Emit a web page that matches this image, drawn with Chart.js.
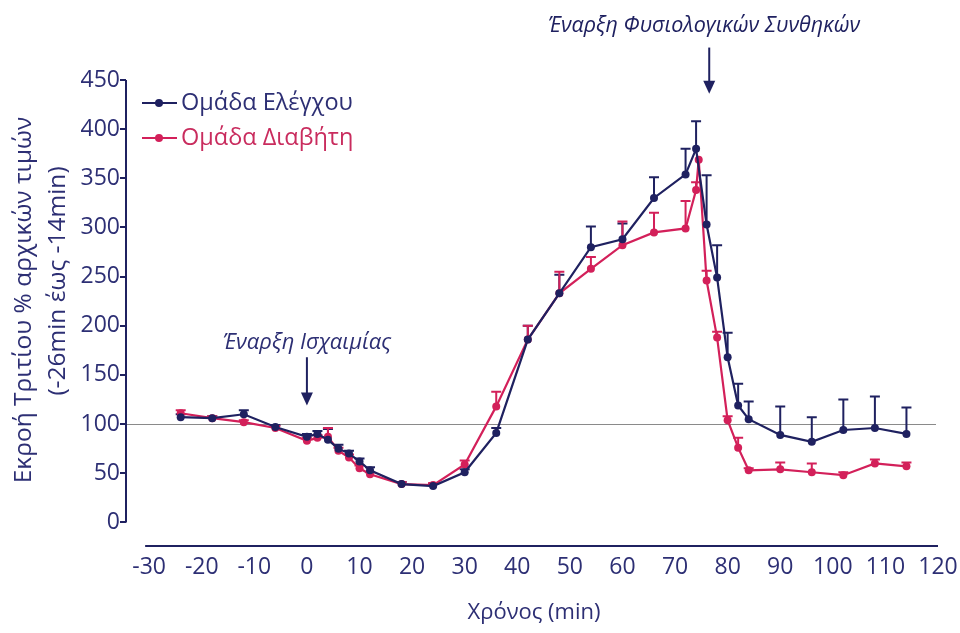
<!DOCTYPE html>
<html>
<head>
<meta charset="utf-8">
<script src="https://cdn.jsdelivr.net/npm/chart.js@4.4.1/dist/chart.umd.min.js"></script>
<style>
  html, body { margin: 0; padding: 0; background: #ffffff; }
</style>
</head>
<body>
<canvas id="chart" width="960" height="633"></canvas>
<script>
// Sampling times (min) for each group
const timeControl  = [-24, -18, -12, -6, 0, 2, 4, 6, 8, 10, 12, 18, 24, 30, 36, 42, 48, 54, 60, 66, 72, 74, 76, 78, 80, 82, 84, 90, 96, 102, 108, 114];
const timeDiabetes = [-24, -18, -12, -6, 0, 2, 4, 6, 8, 10, 12, 18, 24, 30, 36, 42, 48, 54, 60, 66, 72, 74, 74.5, 76, 78, 80, 82, 84, 90, 96, 102, 108, 114];

// Tritium efflux, % of baseline values (mean)
const valuesControl  = [107, 106, 110, 97, 87, 90, 84, 75, 70, 62, 53, 39, 37, 51, 91, 186, 233, 280, 288, 330, 354, 380, 303, 249, 168, 119, 105, 89, 82, 94, 96, 90];
const valuesDiabetes = [111, 106, 102, 96, 83, 86, 87, 73, 66, 55, 49, 39, 38, 59, 118, 186, 233, 258, 282, 295, 299, 338, 369, 246, 188, 104, 76, 53, 54, 51, 48, 60, 57];

// Upper error (SEM)
const errorsControl  = [3, 2, 4, 2, 3, 3, 11, 4, 3, 3, 3, 2, 2, 3, 5, 14, 19, 21, 16, 21, 26, 28, 50, 33, 25, 22, 18, 29, 25, 31, 32, 27];
const errorsDiabetes = [3, 2, 2, 2, 3, 3, 9, 3, 3, 3, 2, 2, 2, 4, 15, 14, 22, 12, 24, 20, 28, 8, 0, 10, 6, 4, 10, 2, 7, 9, 3, 4, 4];

// Axis ticks
const xTicks = [-30, -20, -10, 0, 10, 20, 30, 40, 50, 60, 70, 80, 90, 100, 110, 120];
const yTicks = [0, 50, 100, 150, 200, 250, 300, 350, 400, 450];

const seriesLabels = ['Ομάδα Ελέγχου', 'Ομάδα Διαβήτη'];
const baselineValue = 100;

const NAVY = '#1f2160';
const CRIMSON = '#d3205a';
const TEXT_NAVY = '#2d2f74';
const TEXT_CRIMSON = '#c92c5e';
const FONT = "'Open Sans', 'DejaVu Sans', sans-serif";

const toPoints = (xs, ys) => xs.map((t, i) => ({ x: t, y: ys[i] }));

// Upward error bars with caps, drawn beneath the markers
const errorBars = {
  id: 'errorBars',
  beforeDatasetsDraw(chart) {
    const { ctx, scales: { x, y } } = chart;
    chart.data.datasets.forEach((ds, i) => {
      if (!chart.isDatasetVisible(i) || !ds.errors) return;
      ctx.save();
      ctx.strokeStyle = ds.borderColor;
      ctx.lineWidth = 2;
      ds.data.forEach((p, j) => {
        const e = ds.errors[j];
        if (!e) return;
        const px = x.getPixelForValue(p.x);
        const py = y.getPixelForValue(p.y);
        const pt = y.getPixelForValue(p.y + e);
        ctx.beginPath();
        ctx.moveTo(px, py);
        ctx.lineTo(px, pt);
        ctx.moveTo(px - 5, pt);
        ctx.lineTo(px + 5, pt);
        ctx.stroke();
      });
      ctx.restore();
    });
  }
};

// Detached axis lines and the 100% baseline
const axisLines = {
  id: 'axisLines',
  beforeDatasetsDraw(chart) {
    const { ctx, chartArea, scales: { x, y } } = chart;
    ctx.save();
    // baseline at 100%
    ctx.strokeStyle = '#8a8a8a';
    ctx.lineWidth = 1;
    const yb = Math.round(y.getPixelForValue(baselineValue)) + 0.5;
    ctx.beginPath();
    ctx.moveTo(chartArea.left, yb);
    ctx.lineTo(x.getPixelForValue(120) - 2, yb);
    ctx.stroke();
    // y axis from 0 to 450
    ctx.strokeStyle = NAVY;
    ctx.lineWidth = 2;
    ctx.beginPath();
    ctx.moveTo(chartArea.left, y.getPixelForValue(yTicks[0]));
    ctx.lineTo(chartArea.left, y.getPixelForValue(yTicks[yTicks.length - 1]));
    ctx.stroke();
    // x axis along the bottom
    ctx.beginPath();
    ctx.moveTo(x.getPixelForValue(xTicks[0]) - 4, chartArea.bottom);
    ctx.lineTo(x.getPixelForValue(xTicks[xTicks.length - 1]), chartArea.bottom);
    ctx.stroke();
    ctx.restore();
  }
};

// Event markers with arrows, axis titles and legend
const annotations = {
  id: 'annotations',
  afterDraw(chart) {
    const { ctx, chartArea, scales: { x, y } } = chart;
    ctx.save();

    const arrow = (t, vFrom, vTo) => {
      const px = x.getPixelForValue(t);
      const y0 = y.getPixelForValue(vFrom);
      const y1 = y.getPixelForValue(vTo);
      ctx.strokeStyle = NAVY;
      ctx.fillStyle = NAVY;
      ctx.lineWidth = 2;
      ctx.beginPath();
      ctx.moveTo(px, y0);
      ctx.lineTo(px, y1 - 10);
      ctx.stroke();
      ctx.beginPath();
      ctx.moveTo(px - 6, y1 - 13);
      ctx.lineTo(px + 6, y1 - 13);
      ctx.lineTo(px, y1);
      ctx.closePath();
      ctx.fill();
    };

    ctx.font = `italic 22px ${FONT}`;
    ctx.fillStyle = TEXT_NAVY;
    ctx.textAlign = 'center';
    ctx.textBaseline = 'middle';
    ctx.fillText('Έναρξη Ισχαιμίας', x.getPixelForValue(0), y.getPixelForValue(183));
    arrow(0, 168, 119);

    ctx.font = `italic 21.5px ${FONT}`;
    ctx.fillText('Έναρξη Φυσιολογικών Συνθηκών', x.getPixelForValue(75.5), y.getPixelForValue(505));
    arrow(76.5, 483, 436);

    // x title
    ctx.font = `22px ${FONT}`;
    ctx.fillStyle = TEXT_NAVY;
    ctx.fillText('Χρόνος (min)', (chartArea.left + chartArea.right) / 2 + 2, 613);

    // y title (two lines, rotated)
    ctx.font = `24.5px ${FONT}`;
    ctx.save();
    ctx.translate(24, 300);
    ctx.rotate(-Math.PI / 2);
    ctx.fillText('Εκροή Τριτίου % αρχικών τιμών', 0, 0);
    ctx.restore();
    ctx.save();
    ctx.translate(58, 281);
    ctx.rotate(-Math.PI / 2);
    ctx.fillText('(-26min έως -14min)', 0, 0);
    ctx.restore();

    // legend
    const textColors = [TEXT_NAVY, TEXT_CRIMSON];
    chart.data.datasets.forEach((ds, i) => {
      const ly = chartArea.top + 23 + i * 35;
      const lx = chartArea.left + 16;
      ctx.strokeStyle = ds.borderColor;
      ctx.fillStyle = ds.borderColor;
      ctx.lineWidth = 2;
      ctx.beginPath();
      ctx.moveTo(lx, ly);
      ctx.lineTo(lx + 35, ly);
      ctx.stroke();
      ctx.beginPath();
      ctx.arc(lx + 17, ly, 4, 0, Math.PI * 2);
      ctx.fill();
      ctx.font = `23.5px ${FONT}`;
      ctx.fillStyle = textColors[i];
      ctx.textAlign = 'left';
      ctx.fillText(ds.label, lx + 39, ly);
    });

    ctx.restore();
  }
};

new Chart(document.getElementById('chart'), {
  type: 'line',
  data: {
    datasets: [
      {
        label: seriesLabels[0],
        data: toPoints(timeControl, valuesControl),
        errors: errorsControl,
        borderColor: NAVY,
        backgroundColor: NAVY,
        borderWidth: 2.2,
        pointRadius: 4,
        pointBackgroundColor: NAVY,
        pointBorderWidth: 0,
        tension: 0
      },
      {
        label: seriesLabels[1],
        data: toPoints(timeDiabetes, valuesDiabetes),
        errors: errorsDiabetes,
        borderColor: CRIMSON,
        backgroundColor: CRIMSON,
        borderWidth: 2.2,
        pointRadius: 4,
        pointBackgroundColor: CRIMSON,
        pointBorderWidth: 0,
        tension: 0
      }
    ]
  },
  options: {
    responsive: false,
    animation: false,
    devicePixelRatio: 1,
    layout: { padding: { left: 0, right: 22, top: 80, bottom: 0 } },
    plugins: {
      legend: { display: false },
      tooltip: { enabled: false }
    },
    scales: {
      x: {
        type: 'linear',
        min: -34.4,
        max: 120,
        grid: { display: false },
        border: { display: false },
        afterBuildTicks: (scale) => { scale.ticks = xTicks.map(v => ({ value: v })); },
        afterFit: (scale) => { scale.height = 87; },
        ticks: {
          color: TEXT_NAVY,
          font: { family: FONT, size: 23 },
          padding: 0,
          maxRotation: 0,
          autoSkip: false
        }
      },
      y: {
        type: 'linear',
        min: -24,
        max: 450,
        grid: { display: true, drawOnChartArea: false, drawTicks: true, tickLength: 6, color: NAVY, lineWidth: 2 },
        border: { display: false },
        afterBuildTicks: (scale) => { scale.ticks = yTicks.map(v => ({ value: v })); },
        afterFit: (scale) => { scale.width = 126; },
        ticks: {
          color: TEXT_NAVY,
          font: { family: FONT, size: 23 },
          padding: 0
        }
      }
    }
  },
  plugins: [axisLines, errorBars, annotations]
});
</script>
</body>
</html>
